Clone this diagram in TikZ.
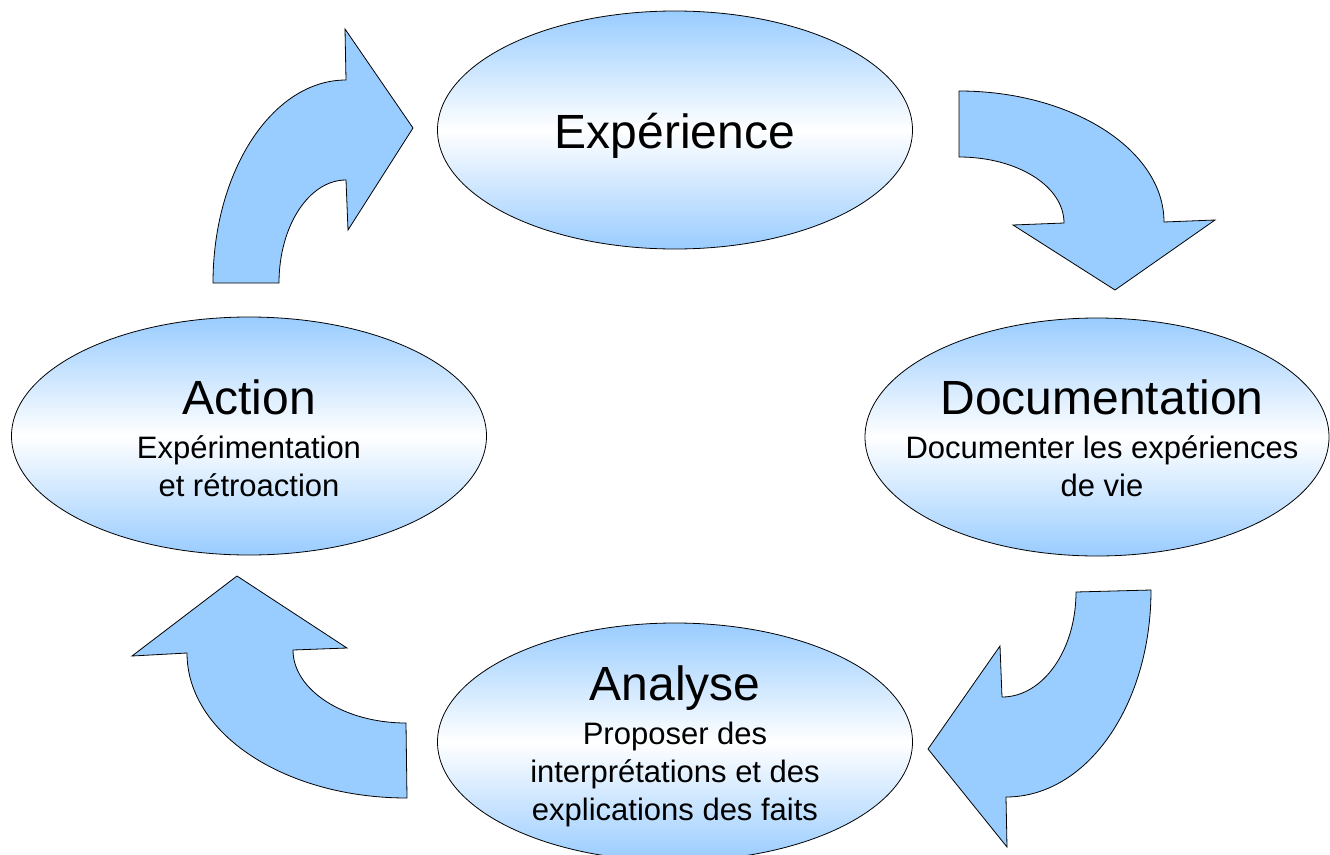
\documentclass[tikz,border=0pt]{standalone}
\usepackage{fontspec}
\setmainfont{Liberation Sans}
\usetikzlibrary{shapes.geometric}
\definecolor{bleuciel}{HTML}{99CCFF}

\begin{document}
\begin{tikzpicture}[x=1pt,y=-1pt,
  bulle/.style={ellipse, draw, line width=.8pt, inner sep=0pt,
    minimum width=475pt, minimum height=238pt,
    top color=bleuciel, bottom color=bleuciel, middle color=white},
  fleche/.style={draw, fill=bleuciel, line width=.8pt, line join=miter},
  titre/.style={anchor=base, font=\fontsize{48}{56}\selectfont},
  soustitre/.style={anchor=base, align=center, font=\fontsize{31}{38}\selectfont}]
  \useasboundingbox (0,0) rectangle (1330,854);

  % les quatre phases
  \node[bulle] (exp) at (675,130) {};
  \node[bulle, minimum width=464pt] (doc) at (1097,437) {};
  \node[bulle] (ana) at (675,742) {};
  \node[bulle] (act) at (249,436) {};

  % base du sous-titre = derniere ligne
  \node[titre] (expT) at ([yshift=-18pt]exp.center) {Expérience};
  \node[titre] (docT) at ([xshift=5pt,yshift=23pt]doc.center) {Documentation};
  \node[soustitre] (docS) at ([yshift=-82pt]docT.base) {Documenter les expériences\\de vie};
  \node[titre] (anaT) at ([yshift=42pt]ana.center) {Analyse};
  \node[soustitre] (anaS) at ([yshift=-120pt]anaT.base) {Proposer des\\interprétations et des\\explications des faits};
  \node[titre] (actT) at ([yshift=22pt]act.center) {Action};
  \node[soustitre] (actS) at ([yshift=-82pt]actT.base) {Expérimentation\\et rétroaction};

  % fleches courbes
  \draw[fleche] (213,283) -- (279,283) .. controls (279,226) and (309,180) .. (346,180)
    -- (348,230) -- (413,128) -- (345,29) -- (346,80)
    .. controls (272.5,80) and (213,171) .. (213,283) -- cycle;
  \draw[fleche] (959,91) .. controls (1072,91) and (1164,150) .. (1164,222)
    -- (1215,220) -- (1115,290) -- (1013,225) -- (1064,223)
    .. controls (1064,186) and (1017,157) .. (959,157) -- cycle;
  \draw[fleche] (1076,592) -- (1151,590) .. controls (1151,705) and (1087,797) .. (1006,797)
    -- (1007,847) -- (928,749) -- (1000,646) -- (1002,697)
    .. controls (1043,697) and (1076,650) .. (1076,592) -- cycle;
  \draw[fleche] (237,576) -- (347,648) -- (293,650) .. controls (293,690) and (344,723) .. (406,723)
    -- (407,798) .. controls (285.5,798) and (187,734) .. (187,653) -- (132,656) -- cycle;
\end{tikzpicture}
\end{document}
